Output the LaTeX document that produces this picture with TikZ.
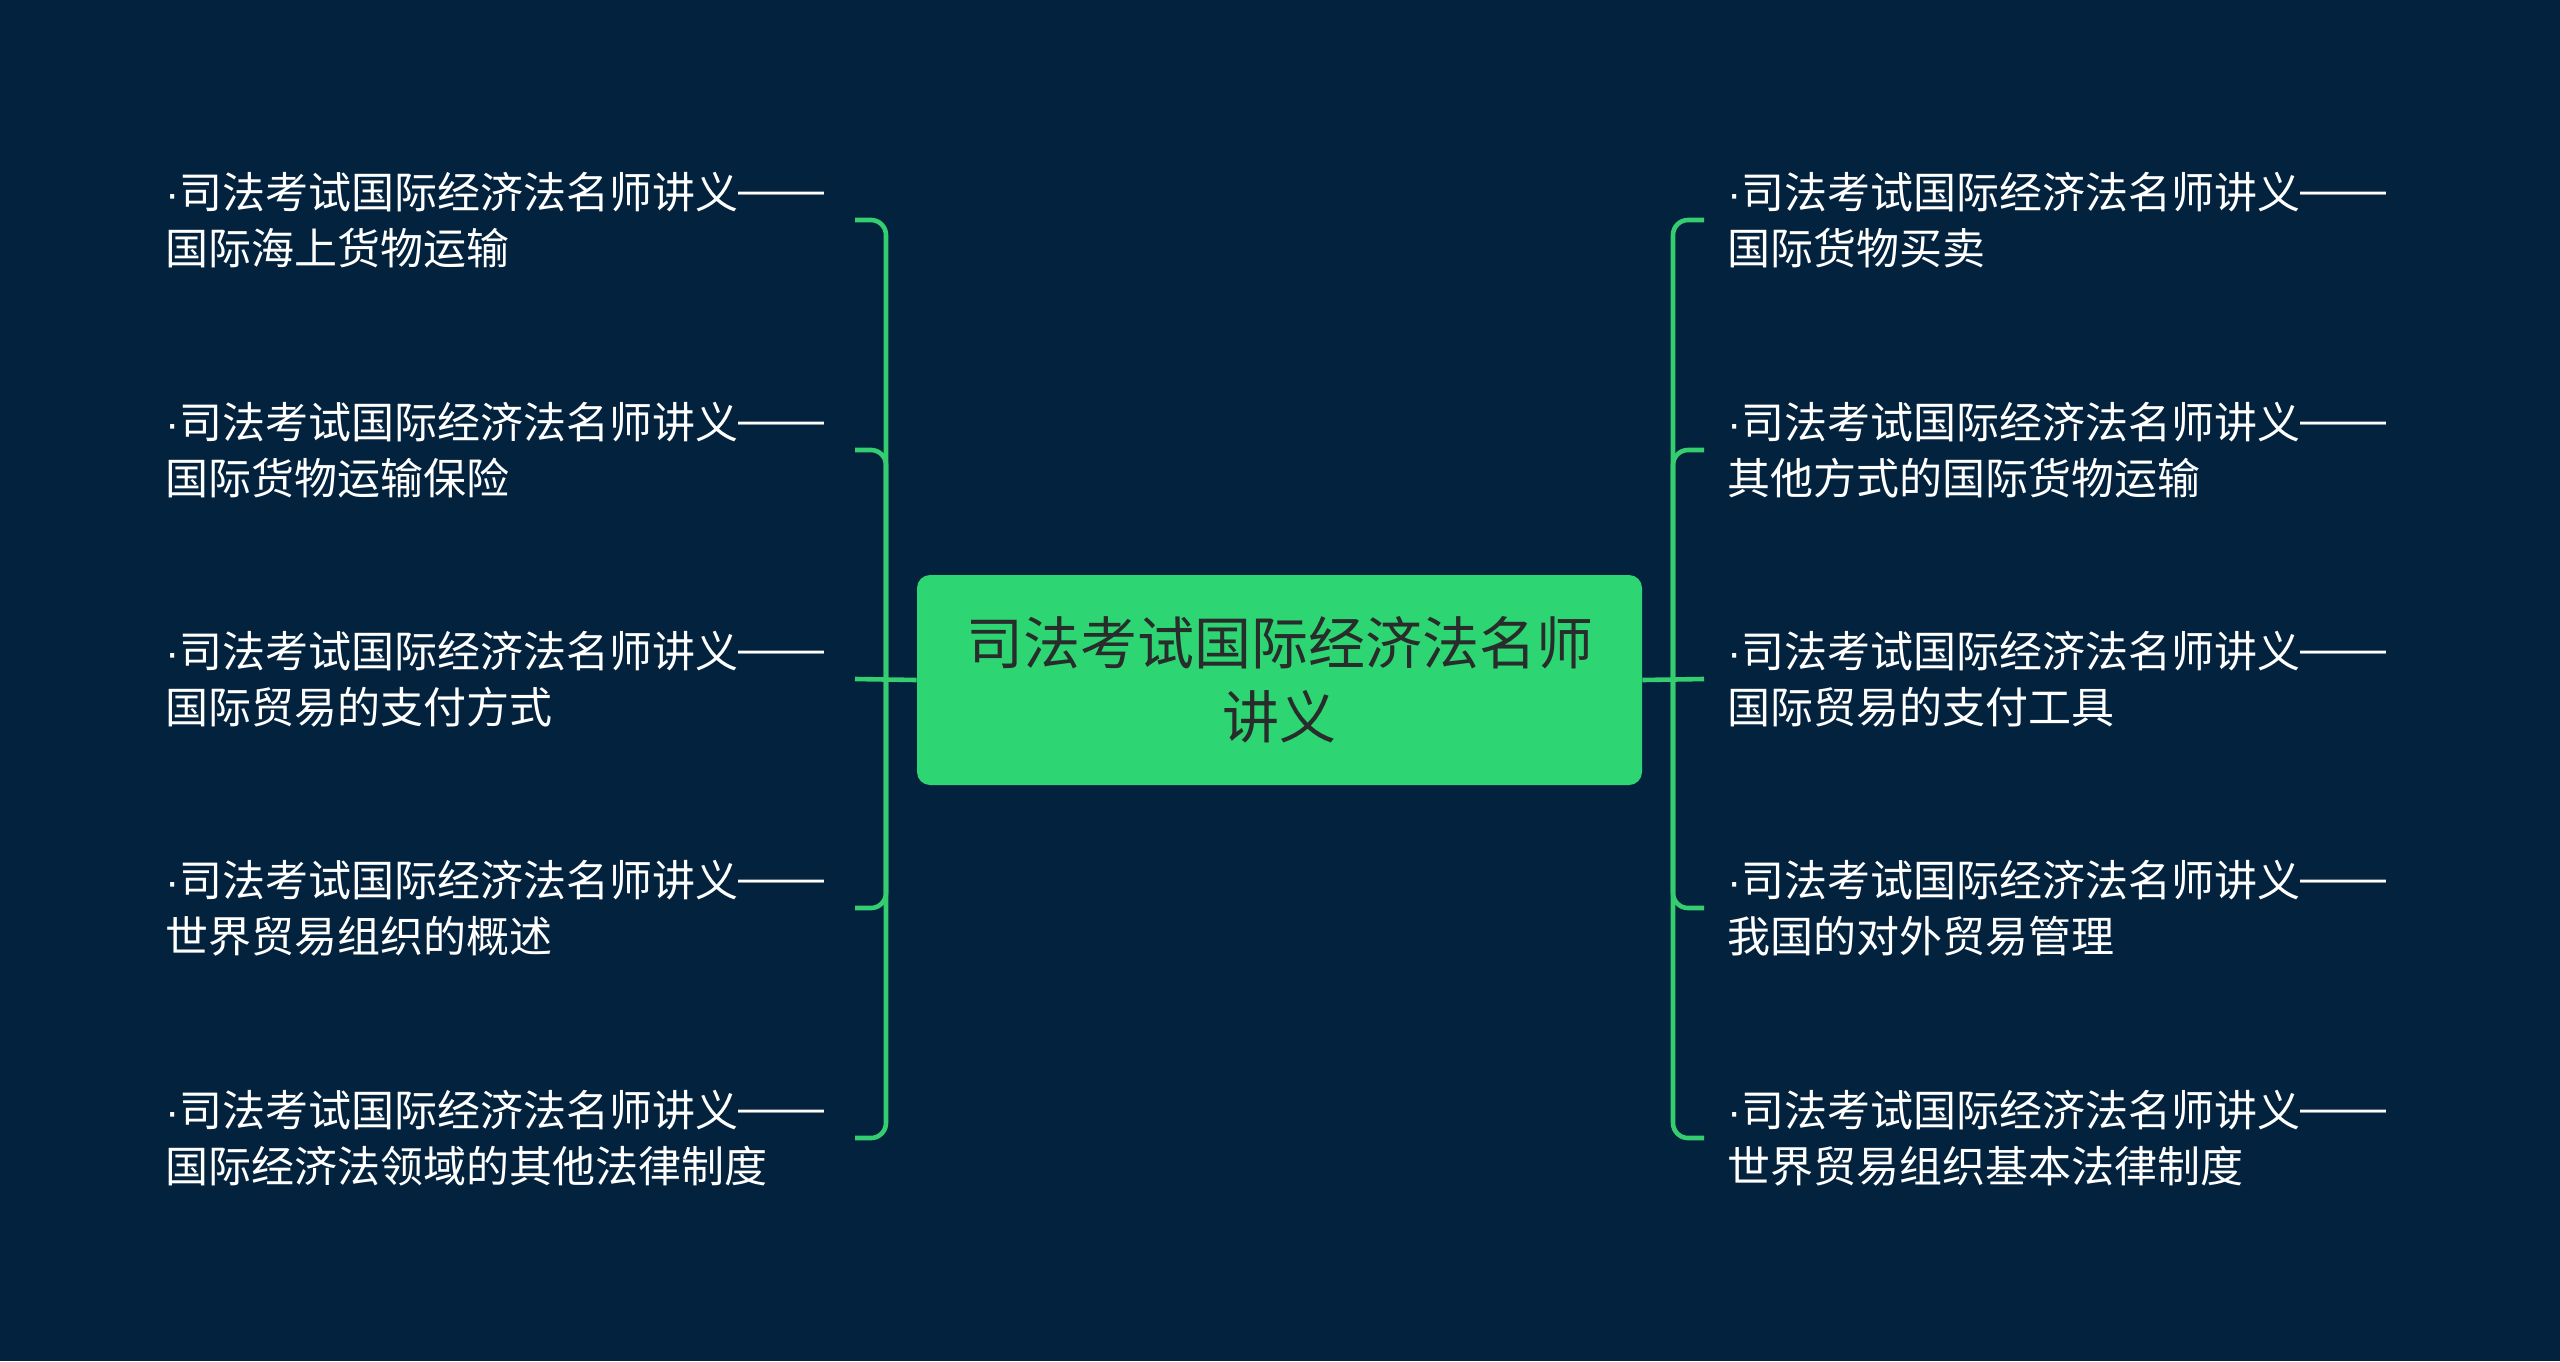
\documentclass[tikz,border=0pt]{standalone}
\usepackage{fontspec}
\newfontfamily\cjk{Noto Sans CJK SC}
\newfontfamily\latinf{Liberation Sans}
\newcommand{\pdot}{{\latinf ·}}
\newcommand{\fdash}{\raisebox{0.09em}{\latinf ——}}
\definecolor{bgc}{RGB}{3,34,61}
\definecolor{boxc}{RGB}{46,213,115}
\definecolor{linec}{RGB}{52,206,112}
\definecolor{ctext}{RGB}{40,44,42}
\tikzset{
  leaf/.style={anchor=west,inner sep=0pt,align=left,text=white,
    font=\cjk\fontsize{21.5pt}{27.75pt}\selectfont},
  rootbox/.style={fill=boxc,rounded corners=6.5pt,minimum width=362.5pt,
    minimum height=105pt,inner sep=0pt,align=center,text=ctext,
    font=\cjk\fontsize{28.5pt}{36.75pt}\selectfont},
  branch/.style={draw=linec,line width=2.3pt,rounded corners=7.5pt}
}
\begin{document}
\begin{tikzpicture}[x=0.5pt,y=-0.5pt]
\fill[bgc] (0,0) rectangle (2560,1361);
\useasboundingbox (0,0) rectangle (2560,1361);

\node[rootbox] (c) at (1279.5,680) {司法考试国际经济法名师\\讲义};

% left leaves
\node[leaf] (l1) at (165,220) {\pdot 司法考试国际经济法名师讲义\fdash\\国际海上货物运输};
\node[leaf] (l2) at (165,450) {\pdot 司法考试国际经济法名师讲义\fdash\\国际货物运输保险};
\node[leaf] (l3) at (165,679) {\pdot 司法考试国际经济法名师讲义\fdash\\国际贸易的支付方式};
\node[leaf] (l4) at (165,908) {\pdot 司法考试国际经济法名师讲义\fdash\\世界贸易组织的概述};
\node[leaf] (l5) at (165,1138) {\pdot 司法考试国际经济法名师讲义\fdash\\国际经济法领域的其他法律制度};

% right leaves
\node[leaf] (r1) at (1727,220) {\pdot 司法考试国际经济法名师讲义\fdash\\国际货物买卖};
\node[leaf] (r2) at (1727,450) {\pdot 司法考试国际经济法名师讲义\fdash\\其他方式的国际货物运输};
\node[leaf] (r3) at (1727,679) {\pdot 司法考试国际经济法名师讲义\fdash\\国际贸易的支付工具};
\node[leaf] (r4) at (1727,908) {\pdot 司法考试国际经济法名师讲义\fdash\\我国的对外贸易管理};
\node[leaf] (r5) at (1727,1138) {\pdot 司法考试国际经济法名师讲义\fdash\\世界贸易组织基本法律制度};

% junctions and tick ends
\coordinate (lj) at (886,679);
\coordinate (rj) at (1673,679);
\foreach \i/\y in {1/220,2/450,3/679,4/908,5/1138}{
  \coordinate (t\i) at (855,\y);
  \coordinate (u\i) at (1704,\y);
}

% connectors
\draw[branch] (c.west) -- (t3);
\draw[branch] (c.east) -- (u3);
\foreach \i in {1,2,4,5}{
  \draw[branch] (lj) |- (t\i);
  \draw[branch] (rj) |- (u\i);
}
\end{tikzpicture}
\end{document}
